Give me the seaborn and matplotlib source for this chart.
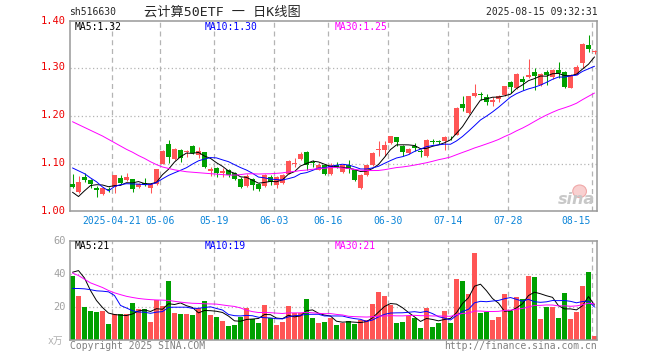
import numpy as np
import pandas as pd
import matplotlib
matplotlib.use("Agg")
import matplotlib.pyplot as plt
import matplotlib.transforms as mtransforms
from matplotlib.patches import Ellipse
import seaborn as sns

# ---- data ----
dates = ["04-10", "04-11", "04-14", "04-15", "04-16", "04-17", "04-18", "04-21", "04-22", "04-23",
         "04-24", "04-25", "04-28", "04-29", "04-30", "05-06", "05-07", "05-08", "05-09", "05-12",
         "05-13", "05-14", "05-15", "05-16", "05-19", "05-20", "05-21", "05-22", "05-23", "05-26",
         "05-27", "05-28", "05-29", "05-30", "06-03", "06-04", "06-05", "06-06", "06-09", "06-10",
         "06-11", "06-12", "06-13", "06-16", "06-17", "06-18", "06-19", "06-20", "06-23", "06-24",
         "06-25", "06-26", "06-27", "06-30", "07-01", "07-02", "07-03", "07-04", "07-07", "07-08",
         "07-09", "07-10", "07-11", "07-14", "07-15", "07-16", "07-17", "07-18", "07-21", "07-22",
         "07-23", "07-24", "07-25", "07-28", "07-29", "07-30", "07-31", "08-01", "08-04", "08-05",
         "08-06", "08-07", "08-08", "08-11", "08-12", "08-13", "08-14", "08-15"]

opens = [1.058, 1.040, 1.072, 1.065, 1.049, 1.037, 1.047, 1.050, 1.070, 1.065,
         1.067, 1.051, 1.060, 1.048, 1.058, 1.100, 1.142, 1.109, 1.128, 1.125,
         1.138, 1.119, 1.1235, 1.085, 1.091, 1.081, 1.086, 1.081, 1.068, 1.053,
         1.067, 1.058, 1.054, 1.073, 1.056, 1.060, 1.079, 1.100, 1.109, 1.124,
         1.102, 1.0875, 1.0965, 1.078, 1.098, 1.0826, 1.0965, 1.086, 1.049, 1.076,
         1.0965, 1.128, 1.129, 1.143, 1.155, 1.137, 1.123, 1.138, 1.1245, 1.117,
         1.148, 1.146, 1.148, 1.156, 1.161, 1.226, 1.2055, 1.242, 1.245, 1.240,
         1.2285, 1.2355, 1.2445, 1.2715, 1.2584, 1.2783, 1.2813, 1.2926, 1.266, 1.2926,
         1.2815, 1.2975, 1.2926, 1.2592, 1.287, 1.3115, 1.3497, 1.3337]
closes = [1.051, 1.062, 1.065, 1.057, 1.044, 1.048, 1.044, 1.076, 1.060, 1.072,
          1.046, 1.058, 1.055, 1.057, 1.088, 1.126, 1.115, 1.131, 1.112, 1.127,
          1.1225, 1.126, 1.092, 1.088, 1.081, 1.085, 1.077, 1.068, 1.051, 1.075,
          1.055, 1.046, 1.076, 1.062, 1.071, 1.076, 1.1055, 1.102, 1.121, 1.097,
          1.101, 1.097, 1.078, 1.098, 1.092, 1.0965, 1.088, 1.065, 1.076, 1.0965,
          1.123, 1.131, 1.140, 1.157, 1.146, 1.124, 1.130, 1.133, 1.124, 1.149,
          1.146, 1.145, 1.155, 1.155, 1.216, 1.217, 1.241, 1.249, 1.244, 1.229,
          1.234, 1.2425, 1.262, 1.2612, 1.289, 1.2716, 1.287, 1.2837, 1.2884, 1.287,
          1.2975, 1.2905, 1.2606, 1.287, 1.3033, 1.3511, 1.3414, 1.3372]
highs = [1.079, 1.074, 1.081, 1.067, 1.053, 1.052, 1.050, 1.077, 1.077, 1.080,
         1.068, 1.060, 1.069, 1.058, 1.089, 1.128, 1.149, 1.133, 1.131, 1.129,
         1.140, 1.134, 1.124, 1.093, 1.092, 1.091, 1.089, 1.082, 1.071, 1.078,
         1.069, 1.059, 1.078, 1.076, 1.074, 1.078, 1.108, 1.111, 1.125, 1.126,
         1.108, 1.101, 1.098, 1.101, 1.104, 1.100, 1.107, 1.087, 1.078, 1.098,
         1.125, 1.147, 1.148, 1.159, 1.156, 1.140, 1.132, 1.144, 1.131, 1.152,
         1.152, 1.150, 1.158, 1.159, 1.218, 1.243, 1.243, 1.267, 1.251, 1.246,
         1.239, 1.245, 1.263, 1.273, 1.290, 1.284, 1.320, 1.301, 1.290, 1.297,
         1.299, 1.313, 1.294, 1.289, 1.306, 1.353, 1.3706, 1.339]
lows = [1.049, 1.038, 1.062, 1.048, 1.029, 1.035, 1.040, 1.038, 1.058, 1.064,
        1.041, 1.048, 1.053, 1.038, 1.056, 1.099, 1.101, 1.107, 1.104, 1.115,
        1.120, 1.112, 1.090, 1.075, 1.071, 1.073, 1.072, 1.065, 1.048, 1.051,
        1.044, 1.043, 1.052, 1.055, 1.048, 1.058, 1.078, 1.093, 1.107, 1.087,
        1.093, 1.086, 1.076, 1.076, 1.090, 1.080, 1.081, 1.063, 1.047, 1.074,
        1.095, 1.116, 1.116, 1.141, 1.138, 1.117, 1.121, 1.126, 1.115, 1.115,
        1.141, 1.141, 1.128, 1.150, 1.160, 1.211, 1.204, 1.240, 1.233, 1.224,
        1.221, 1.229, 1.243, 1.249, 1.257, 1.254, 1.280, 1.254, 1.264, 1.266,
        1.277, 1.280, 1.258, 1.258, 1.286, 1.301, 1.334, 1.330]

# volume, in 万 (10k)
volumes = [38.6, 26.6, 20.0, 17.6, 17.0, 17.6, 9.8, 15.6, 15.8, 15.8,
           22.4, 18.8, 18.8, 11.0, 24.2, 20.6, 35.6, 16.4, 15.8, 15.8,
           15.2, 19.4, 23.6, 15.2, 14.0, 11.6, 8.6, 9.2, 14.0, 19.4,
           12.8, 10.4, 21.2, 13.4, 9.2, 11.0, 20.6, 16.4, 16.4, 24.8,
           13.4, 10.4, 11.0, 13.4, 9.2, 10.6, 11.6, 9.8, 12.2, 12.2,
           21.8, 29.0, 26.6, 21.2, 10.4, 11.0, 14.6, 13.4, 7.4, 19.4,
           8.0, 10.4, 17.6, 10.4, 36.8, 35.6, 27.8, 52.4, 16.4, 17.0,
           12.2, 14.0, 27.8, 17.6, 26.0, 24.8, 38.6, 38.0, 12.8, 20.0,
           20.0, 13.4, 28.4, 12.8, 17.0, 32.6, 41.0, 2.6]

# moving-average values at the start of the window, where the earlier
# days are not in the picture
ma5_head = [1.040, 1.031, 1.043, 1.054]
ma10_head = [1.091, 1.085, 1.079, 1.070, 1.062, 1.051, 1.043, 1.052, 1.056]
ma30_head = [1.188, 1.182, 1.176, 1.170, 1.164, 1.158, 1.151, 1.144, 1.137, 1.130,
             1.124, 1.117, 1.111, 1.104, 1.098, 1.093, 1.090, 1.087, 1.085, 1.083,
             1.082, 1.081, 1.080, 1.079, 1.078, 1.077, 1.076, 1.076, 1.077]
vma5_head = [41.0, 42.0, 37.5, 30.0]
vma10_head = [31.2, 31.2, 31.0, 30.5, 29.8, 29.6, 29.2, 27.0, 21.0]
vma30_head = [40.5, 39.0, 36.8, 34.6, 33.2, 31.8, 30.0, 28.6, 27.5, 26.5,
              25.8, 25.2, 24.8, 24.5, 24.3, 24.2, 24.0, 23.5, 23.0, 22.6,
              22.3, 22.2, 22.0, 21.9, 21.8, 21.3, 20.8, 20.4, 19.5]

label_dates = ["04-21", "05-06", "05-19", "06-03", "06-16", "06-30", "07-14", "07-28", "08-15"]
label_texts = ["2025-04-21", "05-06", "05-19", "06-03", "06-16", "06-30", "07-14", "07-28", "08-15"]
price_ticks = [1.00, 1.10, 1.20, 1.30, 1.40]
vol_ticks = [20, 40, 60]

TITLE = "云计算50ETF 一 日K线图"
CODE = "sh516630"
STAMP = "2025-08-15 09:32:31"
PRICE_LEGEND = ["MA5:1.32", "MA10:1.30", "MA30:1.25"]
VOL_LEGEND = ["MA5:21", "MA10:19", "MA30:21"]

# ---- style ----
RED = "#ff5555"
GREEN = "#00a000"
MA_COLORS = ["#000000", "#0000ff", "#ff00ff"]
FRAME = "#999999"
GRID = "#b4b4b4"
DATE_BLUE = "#0a84d8"
MONO = ["DejaVu Sans Mono", "Noto Sans CJK SC"]

W, H = 660, 360
BAR_W = 5 / 6          # 5px body in a 6px slot


def moving_avg(values, n, head):
    s = pd.Series(values, dtype=float).rolling(n).mean()
    s.iloc[:len(head)] = head
    return s.to_numpy()


def px_box(left, top, right, bottom):
    return [left / W, 1 - bottom / H, (right - left) / W, (bottom - top) / H]


def fig_text(x, y, s, **kw):
    kw.setdefault("family", MONO)
    kw.setdefault("fontsize", 7)
    kw.setdefault("va", "center")
    fig.text(x / W, 1 - y / H, s, **kw)


def frame_axes(ax):
    for sp in ax.spines.values():
        sp.set_color(FRAME)
        sp.set_linewidth(1.1)
    ax.set_xticks([])
    ax.set_yticks([])
    ax.set_xlabel("")
    ax.set_ylabel("")


sns.set_style("white")
plt.rcParams["font.family"] = MONO

o = np.array(opens)
c = np.array(closes)
hi = np.array(highs)
lo = np.array(lows)
vol = np.array(volumes)
x = np.arange(len(dates))
colors = np.where(c >= o, RED, GREEN)
xc = x + BAR_W / 2
grid_x = [dates.index(d) for d in label_dates]

price_ma = [moving_avg(c, 5, ma5_head), moving_avg(c, 10, ma10_head), moving_avg(c, 30, ma30_head)]
vol_ma = [moving_avg(vol, 5, vma5_head), moving_avg(vol, 10, vma10_head), moving_avg(vol, 30, vma30_head)]

fig = plt.figure(figsize=(W / 100, H / 100), dpi=100)
ax = fig.add_axes(px_box(70, 20.7, 597, 211.3))
axv = fig.add_axes(px_box(70, 240.7, 597, 340.3))

# ---- price panel ----
for gx in grid_x:
    ax.axvline(gx, color=GRID, lw=0.9, ls=(0, (4, 3)), zorder=0)
for t in price_ticks[1:-1]:
    ax.axhline(t, color=GRID, lw=0.9, ls=(0, (1, 2)), zorder=0)

ax.vlines(xc, lo, hi, colors=colors, lw=0.75, zorder=2)
body = np.maximum(np.abs(c - o), 0.0018)
ax.bar(x, body, bottom=np.minimum(o, c), width=BAR_W, align="edge",
       color=colors, linewidth=0, zorder=3)

for ma, col in zip(price_ma, MA_COLORS):
    sns.lineplot(x=xc, y=ma, ax=ax, color=col, lw=0.7, zorder=4)

ax.set_xlim(0, 527 / 6)
ax.set_ylim(price_ticks[0], price_ticks[-1])
frame_axes(ax)

# sina watermark
ax.add_patch(Ellipse((0.967, 0.105), 0.026, 0.066, transform=ax.transAxes,
                     facecolor="#f8d0d0", edgecolor="#f0a8a8", lw=0.8, zorder=1))
ax.text(0.997, 0.025, "sina", transform=ax.transAxes, ha="right", va="bottom",
        fontsize=11.5, fontweight="bold", style="italic", family="DejaVu Sans",
        color="#c8c8c8", zorder=1)

# ---- volume panel ----
for gx in grid_x:
    axv.axvline(gx, color=GRID, lw=0.9, ls=(0, (4, 3)), zorder=0)
for t in vol_ticks[:-1]:
    axv.axhline(t, color=GRID, lw=0.9, ls=(0, (1, 2)), zorder=0)

axv.bar(x, vol, width=BAR_W, align="edge", color=colors, linewidth=0, zorder=2)
for ma, col in zip(vol_ma, MA_COLORS):
    sns.lineplot(x=xc, y=ma, ax=axv, color=col, lw=0.7, zorder=4)

axv.set_xlim(0, 527 / 6)
axv.set_ylim(0, vol_ticks[-1])
frame_axes(axv)

# ---- texts ----
fig_text(69, 12, CODE, ha="left")
fig_text(222, 12, TITLE, ha="center", fontsize=9.5)
fig_text(598, 12, STAMP, ha="right")

for t in price_ticks:
    y = 211.3 - (t - price_ticks[0]) * 480
    fig_text(66, y + (1.5 if t == price_ticks[-1] else 0), f"{t:.2f}",
             ha="right", color="#ee0000", fontsize=7.5)

for t in vol_ticks:
    y = 340.3 - t * 1.66
    fig_text(66, y, str(t), ha="right", color="#a0a0a0", fontsize=7.5)
fig_text(63, 341, "x万", ha="right", color="#b0b0b0", fontsize=7)

trans = mtransforms.blended_transform_factory(ax.transData, fig.transFigure)
for i, (gx, s) in enumerate(zip(grid_x, label_texts)):
    last = i == len(grid_x) - 1
    fig.text(gx - (0.15 if last else 0), 1 - 221 / H, s, transform=trans,
             ha="right" if last else "center", va="center",
             color=DATE_BLUE, fontsize=7, family=MONO)

for xpos, s, col in zip([75, 205, 335], PRICE_LEGEND, MA_COLORS):
    fig_text(xpos, 27, s, ha="left", color=col)
for xpos, s, col in zip([75, 205, 335], VOL_LEGEND, MA_COLORS):
    fig_text(xpos, 246, s, ha="left", color=col)

fig_text(70, 346, "Copyright 2025 SINA.COM", ha="left", color="#808080")
fig_text(597, 346, "http://finance.sina.com.cn", ha="right", color="#808080")

fig.savefig("out.png", dpi=100, facecolor="white")
